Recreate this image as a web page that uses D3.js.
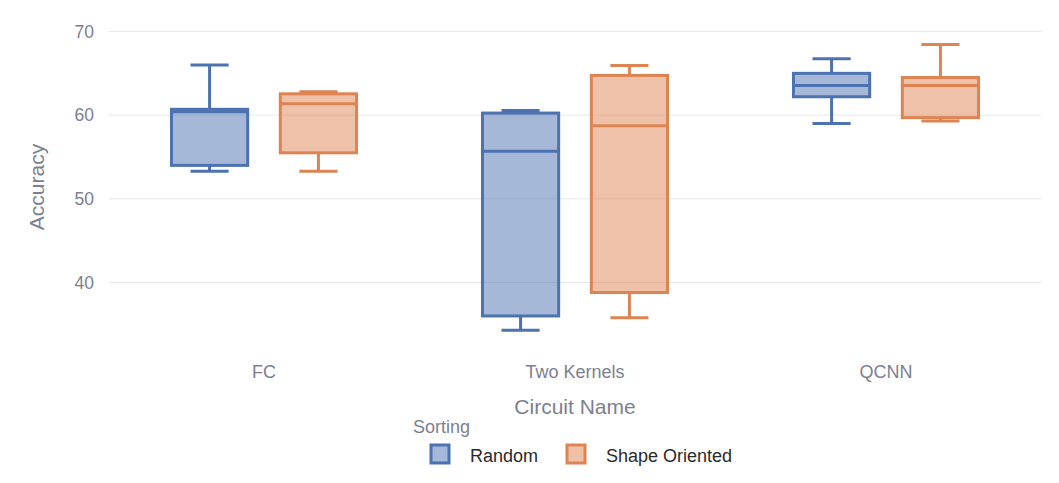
<!DOCTYPE html>
<html>
<head>
<meta charset="utf-8">
<script src="https://cdn.jsdelivr.net/npm/d3@7"></script>
<style>
  body { margin: 0; background: #fff; }
  text { font-family: "Liberation Sans", Arial, sans-serif; }
</style>
</head>
<body>
<script>
// categories and series
var circuits = ["FC", "Two Kernels", "QCNN"];
var sortings = ["Random", "Shape Oriented"];
var yTicks = [40, 50, 60, 70];

// box stats per circuit: [lower whisker, q1, median, q3, upper whisker]
var randomStats = [
  [53.3, 54.0, 60.4, 60.7, 66.0],
  [34.3, 36.0, 55.7, 60.25, 60.55],
  [59.0, 62.2, 63.55, 65.0, 66.75]
];
var shapeStats = [
  [53.3, 55.5, 61.35, 62.55, 62.8],
  [35.8, 38.8, 58.75, 64.75, 65.95],
  [59.3, 59.7, 63.55, 64.5, 68.45]
];

var colors = { "Random": "#4c72b0", "Shape Oriented": "#dd8452" };
var fills = { "Random": "rgba(76,114,176,0.5)", "Shape Oriented": "rgba(221,132,82,0.5)" };

var W = 1059, H = 483;
var plot = { left: 108.5, right: 1041.5, top: 31.5, bottom: 282.5 };

var svg = d3.select("body").append("svg")
    .attr("width", W)
    .attr("height", H);

var x = d3.scaleBand()
    .domain(circuits)
    .range([plot.left, plot.right])
    .padding(0);

// grouped boxes: boxgap 0.3, boxgroupgap 0.3 like plotly
var groupW = x.bandwidth() * 0.7;
var xs = d3.scaleBand()
    .domain(sortings)
    .range([0, groupW])
    .paddingInner(0.3)
    .paddingOuter(0.15);

var y = d3.scaleLinear()
    .domain([70, 40])
    .range([plot.top, plot.bottom]);

// gridlines
svg.append("g").selectAll("line")
    .data(yTicks)
    .enter().append("line")
    .attr("x1", plot.left)
    .attr("x2", plot.right)
    .attr("y1", function(d) { return y(d); })
    .attr("y2", function(d) { return y(d); })
    .attr("stroke", "#e6e9ef")
    .attr("stroke-width", 1);

// y axis labels
var yAxis = d3.axisLeft(y).tickValues(yTicks).tickSize(0).tickPadding(0);
var gy = svg.append("g")
    .attr("transform", "translate(94,0)")
    .call(yAxis);
gy.select(".domain").remove();
gy.selectAll("text")
    .attr("font-size", 17.5)
    .attr("fill", "#7c7f91")
    .attr("font-family", "Liberation Sans, Arial, sans-serif");

// x axis labels
var xAxis = d3.axisBottom(x).tickSize(0).tickPadding(0);
var gx = svg.append("g")
    .attr("transform", "translate(0,365)")
    .call(xAxis);
gx.select(".domain").remove();
gx.selectAll("text")
    .attr("font-size", 18)
    .attr("fill", "#7c7f91")
    .attr("font-family", "Liberation Sans, Arial, sans-serif");

// axis titles
svg.append("text")
    .attr("transform", "translate(44,187) rotate(-90)")
    .attr("text-anchor", "middle")
    .attr("font-size", 21)
    .attr("fill", "#7c7f91")
    .text("Accuracy");

svg.append("text")
    .attr("x", x("Two Kernels") + x.bandwidth() / 2)
    .attr("y", 413.5)
    .attr("text-anchor", "middle")
    .attr("font-size", 21)
    .attr("fill", "#7c7f91")
    .text("Circuit Name");

// boxes
var series = [
  { name: "Random", stats: randomStats },
  { name: "Shape Oriented", stats: shapeStats }
];

series.forEach(function(s) {
  var g = svg.append("g");
  var bw = xs.bandwidth();
  var col = colors[s.name];
  s.stats.forEach(function(st, i) {
    var x0 = x(circuits[i]) + (x.bandwidth() - groupW) / 2 + xs(s.name);
    var cx = x0 + bw / 2;
    // whiskers
    g.append("line")
      .attr("x1", cx).attr("x2", cx)
      .attr("y1", y(st[4])).attr("y2", y(st[3]))
      .attr("stroke", col).attr("stroke-width", 3);
    g.append("line")
      .attr("x1", cx).attr("x2", cx)
      .attr("y1", y(st[1])).attr("y2", y(st[0]))
      .attr("stroke", col).attr("stroke-width", 3);
    g.append("line")
      .attr("x1", cx - bw / 4).attr("x2", cx + bw / 4)
      .attr("y1", y(st[4])).attr("y2", y(st[4]))
      .attr("stroke", col).attr("stroke-width", 3);
    g.append("line")
      .attr("x1", cx - bw / 4).attr("x2", cx + bw / 4)
      .attr("y1", y(st[0])).attr("y2", y(st[0]))
      .attr("stroke", col).attr("stroke-width", 3);
    // box
    g.append("rect")
      .attr("x", x0)
      .attr("y", y(st[3]))
      .attr("width", bw)
      .attr("height", y(st[1]) - y(st[3]))
      .attr("fill", fills[s.name])
      .attr("stroke", col)
      .attr("stroke-width", 3);
    // median
    g.append("line")
      .attr("x1", x0).attr("x2", x0 + bw)
      .attr("y1", y(st[2])).attr("y2", y(st[2]))
      .attr("stroke", col).attr("stroke-width", 3);
  });
});

// legend
svg.append("text")
    .attr("x", 413)
    .attr("y", 433)
    .attr("font-size", 18)
    .attr("fill", "#7c7f91")
    .text("Sorting");

var legendX = [431, 567];
sortings.forEach(function(name, i) {
  var lg = svg.append("g").attr("transform", "translate(" + legendX[i] + ",445)");
  lg.append("rect")
    .attr("x", 0).attr("y", 0)
    .attr("width", 18).attr("height", 18)
    .attr("fill", fills[name])
    .attr("stroke", colors[name])
    .attr("stroke-width", 3);
  lg.append("text")
    .attr("x", 39)
    .attr("y", 16.5)
    .attr("font-size", 18)
    .attr("fill", "#2a2a2a")
    .text(name);
});
</script>
</body>
</html>
